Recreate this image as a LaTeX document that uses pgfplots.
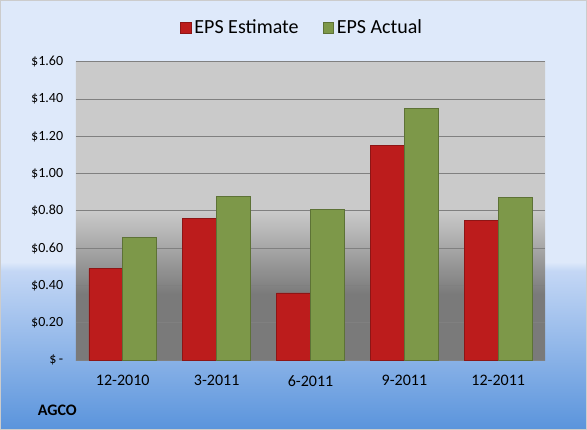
\documentclass[border=0pt]{standalone}
\usepackage{pgfplots}
\pgfplotsset{compat=1.18}
\usepackage{fontspec}
\setmainfont{Carlito}
\definecolor{bgtop}{HTML}{DEE9FA}
\definecolor{bgmid}{HTML}{C4D7F5}
\definecolor{bgbot}{HTML}{5A94DC}
\definecolor{pltop}{HTML}{CACACA}
\definecolor{plbot}{HTML}{7A7A7A}
\definecolor{redbar}{HTML}{BC1C1C}
\definecolor{redline}{HTML}{8E1515}
\definecolor{greenbar}{HTML}{7D9849}
\definecolor{greenline}{HTML}{5D7236}
\pgfdeclareverticalshading{bgshade}{100bp}{color(0bp)=(bgbot); color(25bp)=(bgbot); color(43.5bp)=(bgmid); color(44.5bp)=(bgtop); color(75bp)=(bgtop); color(100bp)=(bgtop)}
\pgfdeclareverticalshading{plotshade}{100bp}{color(0bp)=(plbot); color(36bp)=(plbot); color(50bp)=(pltop); color(100bp)=(pltop)}
\begin{document}
\begin{tikzpicture}
\shade[shading=bgshade, draw=black!20] (0.375pt,0.375pt) rectangle (439.875pt,322.125pt);
\begin{axis}[
  at={(57pt,52.5pt)}, anchor=south west,
  scale only axis,
  width=351.75pt, height=223.5pt,
  xmin=-0.5, xmax=4.5,
  ymin=0, ymax=1.6,
  ytick={0,0.2,...,1.6},
  yticklabels={\$\,-\hspace{0.45em},\$0.20,\$0.40,\$0.60,\$0.80,\$1.00,\$1.20,\$1.40,\$1.60},
  xtick={0,1,2,3,4},
  xticklabels={12-2010,3-2011,6-2011,9-2011,12-2011},
  major tick length=0pt,
  axis line style={draw=none},
  ymajorgrids,
  grid style={draw=black!50, line width=0.8pt},
  axis background/.style={shading=plotshade},
  tick label style={font=\fontsize{10.5}{12}\selectfont},
  xticklabel style={font=\fontsize{12}{14}\selectfont, yshift=-8pt},
  yticklabel style={xshift=-6pt},
  /pgf/number format/assume math mode=true,
  ybar,
  bar width=0.36,
  legend style={at={(0.5,1)}, anchor=center, yshift=25.5pt, xshift=-6pt, draw=none, fill=none,
    font=\fontsize{15}{17}\selectfont, legend columns=2,
    /tikz/every even column/.append style={column sep=16pt}},
  legend image code/.code={\draw[#1] (0pt,-4pt) rectangle (8pt,4pt);},
]
\addplot[bar shift=-0.18, fill=redbar, draw=redline, line width=0.6pt] coordinates {(0,0.49) (1,0.76) (2,0.36) (3,1.15) (4,0.75)};
\addplot[bar shift=0.18, fill=greenbar, draw=greenline, line width=0.6pt] coordinates {(0,0.66) (1,0.88) (2,0.81) (3,1.35) (4,0.87)};
\legend{EPS Estimate, EPS Actual}
\end{axis}
\node[anchor=west, font=\bfseries\fontsize{12}{14}\selectfont] at (25pt,15pt) {AGCO};
\end{tikzpicture}
\end{document}
